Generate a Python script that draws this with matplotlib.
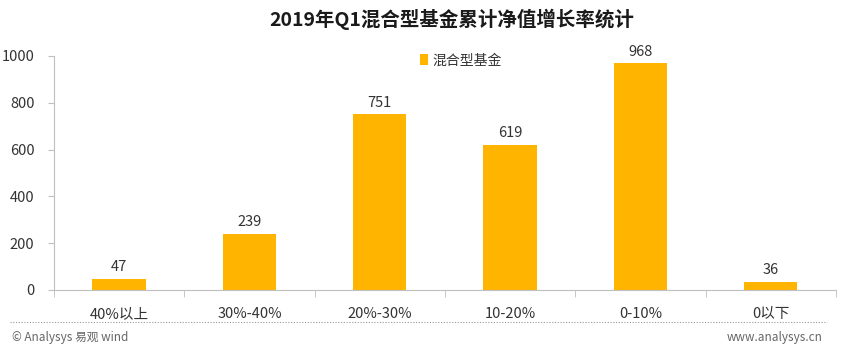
import matplotlib
matplotlib.use('Agg')
import matplotlib.pyplot as plt
from matplotlib.lines import Line2D

plt.rcParams['font.family'] = ['Noto Sans CJK SC', 'DejaVu Sans']

categories = ['40%以上', '30%-40%', '20%-30%', '10-20%', '0-10%', '0以下']
counts = [47, 239, 751, 619, 968, 36]
yticks = [0, 200, 400, 600, 800, 1000]
series_name = '混合型基金'
title = '2019年Q1混合型基金累计净值增长率统计'

bar_color = '#FFB500'
axis_color = '#BFBFBF'
text_color = '#333333'

fig = plt.figure(figsize=(8.68, 3.56), dpi=100)
ax = fig.add_axes([0.0622, 0.1854, 0.9008, 0.6573])

x = list(range(len(categories)))
ax.bar(x, counts, width=0.41, color=bar_color, label=series_name)
for xi, v in zip(x, counts):
    ax.text(xi, v + 20, str(v), ha='center', va='bottom', fontsize=10.5,
            color=text_color)

ax.set_xlim(-0.5, len(categories) - 0.5)
ax.set_ylim(0, 1000)
ax.set_yticks(yticks)
ax.set_yticklabels([str(t) for t in yticks], fontsize=10.5, color=text_color)
ax.set_xticks(x)
ax.set_xticklabels(categories, fontsize=10.5, color=text_color)
ax.tick_params(axis='x', length=0, pad=12)
ax.tick_params(axis='y', length=4, color=axis_color, pad=10)
ax.set_xticks([i - 0.5 for i in range(len(categories) + 1)], minor=True)
ax.tick_params(axis='x', which='minor', length=5, color=axis_color)

for s in ['top', 'right']:
    ax.spines[s].set_visible(False)
ax.spines['left'].set_color(axis_color)
ax.spines['bottom'].set_color(axis_color)

leg = ax.legend(loc='upper center', bbox_to_anchor=(0.52, 1.065), frameon=False,
                fontsize=10, handlelength=0.6, handleheight=0.9, handletextpad=0.3)
for t in leg.get_texts():
    t.set_color(text_color)

fig.text(0.52, 0.945, title, ha='center', va='center', fontsize=14,
         fontweight='bold', color='#1a1a1a')

fig.add_artist(Line2D([0.012, 0.953], [1 - 322 / 356, 1 - 322 / 356],
                      color='#999999', lw=0.8, linestyle=(0, (1, 1.5))))
fig.text(0.014, 1 - 337 / 356, '© Analysys 易观 wind', ha='left', va='center',
         fontsize=8.5, color='#666666')
fig.text(0.948, 1 - 337 / 356, 'www.analysys.cn', ha='right', va='center',
         fontsize=8.5, color='#666666')

fig.savefig('out.png', dpi=100)
